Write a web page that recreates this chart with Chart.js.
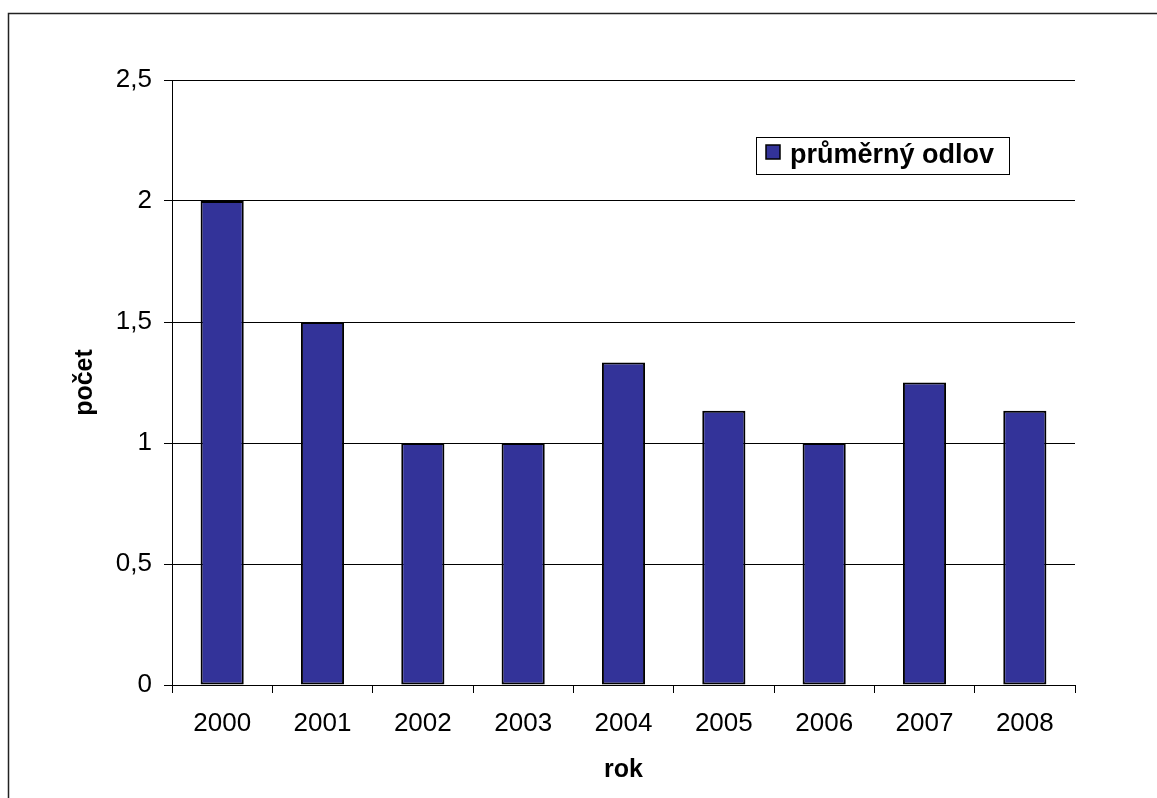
<!DOCTYPE html>
<html>
<head>
<meta charset="utf-8">
<script src="https://cdn.jsdelivr.net/npm/chart.js@4.4.1/dist/chart.umd.min.js"></script>
<style>
  html, body { margin: 0; padding: 0; background: #fff; }
  #wrap { width: 1157px; height: 798px; }
</style>
</head>
<body>
<div id="wrap"><canvas id="chartOdlov" width="1157" height="798"></canvas></div>
<script>
const years = ['2000', '2001', '2002', '2003', '2004', '2005', '2006', '2007', '2008'];
const avgCatch = [2.0, 1.5, 1.0, 1.0, 1.333, 1.133, 1.0, 1.25, 1.133];
const yTicks = [0, 0.5, 1, 1.5, 2, 2.5];
const seriesName = 'průměrný odlov';

const FONT = 'Liberation Sans, Arial, sans-serif';

// outer frame + legend box inside the plot
const framePlugin = {
    id: 'frame',
    afterDraw(chart) {
        const c = chart.ctx;
        c.save();
        c.strokeStyle = '#222';
        c.lineWidth = 1.5;
        c.strokeRect(8.5, 13.5, 1300, 1000);

        const ds = chart.data.datasets[0];
        c.fillStyle = '#fff';
        c.fillRect(756, 137, 253, 37);
        c.strokeStyle = '#000';
        c.lineWidth = 1;
        c.strokeRect(756.5, 137.5, 253, 37);
        c.fillStyle = ds.backgroundColor;
        c.fillRect(766, 145, 14, 14);
        c.strokeStyle = '#000';
        c.lineWidth = 1.5;
        c.strokeRect(766, 145, 14, 14);
        c.fillStyle = '#000';
        c.font = 'bold 27px ' + FONT;
        c.textBaseline = 'middle';
        c.fillText(ds.label, 790, 156);
        c.restore();
    }
};

const ctxOdlov = document.getElementById('chartOdlov');
const chartOdlov = new Chart(ctxOdlov, {
    type: 'bar',
    data: {
        labels: years,
        datasets: [{
            label: seriesName,
            data: avgCatch,
            backgroundColor: '#333399',
            borderColor: '#000',
            borderWidth: 2,
            borderSkipped: false,
            barPercentage: 0.43,
            categoryPercentage: 1
        }]
    },
    options: {
        responsive: false,
        animation: false,
        layout: { padding: { left: 0, top: 80, right: 82, bottom: 0 } },
        plugins: {
            legend: { display: false },
            tooltip: { enabled: false }
        },
        scales: {
            x: {
                afterFit(scale) { scale.height = 113; },
                grid: { drawOnChartArea: false, color: '#000', tickLength: 8, offset: true },
                border: { color: '#000', width: 1 },
                ticks: { color: '#000', padding: 15, font: { family: FONT, size: 26 } },
                title: {
                    display: true, text: 'rok', color: '#000',
                    font: { family: FONT, size: 25, weight: 'bold' },
                    padding: { top: 0, bottom: 13 }
                }
            },
            y: {
                min: 0,
                max: 2.5,
                afterFit(scale) { scale.width = 172; },
                afterBuildTicks(scale) { scale.ticks = yTicks.map(v => ({ value: v })); },
                grid: { color: '#000', tickLength: 8 },
                border: { color: '#000', width: 1 },
                ticks: {
                    color: '#000', padding: 12,
                    font: { family: FONT, size: 26 },
                    callback: v => String(v).replace('.', ',')
                },
                title: {
                    display: true, text: 'počet', color: '#000',
                    font: { family: FONT, size: 25, weight: 'bold' },
                    padding: { top: 70, bottom: 0 }
                }
            }
        }
    },
    plugins: [framePlugin]
});
</script>
</body>
</html>
